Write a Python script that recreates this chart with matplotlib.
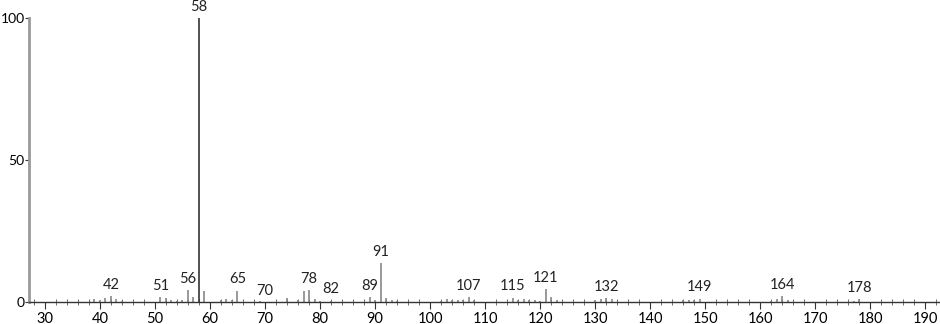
import matplotlib
matplotlib.use("Agg")
import matplotlib.pyplot as plt
import numpy as np

mz = [39, 40, 41, 42, 43, 44, 51, 52, 53, 54, 55, 56, 57, 58, 59, 62, 63, 64, 65,
      69, 74, 76, 77, 78, 79, 80, 82, 89, 90, 91, 92, 93, 94, 102, 103, 104, 105,
      106, 107, 108, 115, 116, 117, 118, 119, 120, 121, 122, 123, 130, 131, 132,
      133, 146, 147, 148, 149, 162, 163, 164, 165, 177, 178]
intensity = [1.0, 0.7, 1.5, 2.1, 1.0, 0.5, 1.6, 1.3, 0.7, 0.5, 0.8, 4.2, 1.6, 100,
             3.9, 0.8, 1.2, 0.7, 4.0, 0.4, 1.4, 0.7, 3.9, 4.2, 1.2, 0.4, 0.5, 1.6,
             0.8, 13.6, 1.3, 0.7, 0.5, 0.5, 1.2, 0.6, 0.8, 0.8, 1.7, 0.8, 1.5, 0.6,
             1.0, 0.7, 0.7, 0.5, 4.5, 1.8, 0.6, 0.7, 1.2, 1.3, 1.0, 0.8, 0.6, 0.8,
             1.2, 0.5, 1.0, 2.1, 0.7, 0.5, 1.0]
labeled = [42, 51, 56, 58, 65, 70, 78, 82, 89, 91, 107, 115, 121, 132, 149, 164, 178]

plt.rcParams['font.family'] = ['Lato', 'DejaVu Sans']

fig = plt.figure(figsize=(9.4, 3.24), dpi=100)
ax = fig.add_axes([29 / 940, 22 / 324, 911 / 940, 284 / 324])

colors = ['#333333' if m == 58 else '#888888' for m in mz]
ax.vlines(mz, 0, intensity, colors=colors, linewidth=1.2)

lookup = dict(zip(mz, intensity))
for m in labeled:
    h = lookup.get(m, 0)
    ax.text(m, h + 1.5, str(m), ha='center', va='bottom', fontsize=10.5,
            color='#222222', clip_on=False)

ax.set_xlim(27.1, 192.7)
ax.set_ylim(0, 100)
ax.set_xticks(np.arange(30, 191, 10))
ax.set_xticks(np.arange(28, 193, 2), minor=True)
ax.set_yticks([0, 50, 100])
ax.tick_params(axis='x', which='major', direction='out', length=5, labelsize=10.5,
               pad=2, color='#333333')
ax.tick_params(axis='x', which='minor', direction='inout', length=4, color='#555555')
ax.tick_params(axis='y', direction='out', length=3, labelsize=10, pad=0,
               color='#333333')

for side in ['top', 'right']:
    ax.spines[side].set_visible(False)
ax.spines['left'].set_color('#999999')
ax.spines['left'].set_linewidth(2)
ax.spines['bottom'].set_color('#333333')
ax.spines['bottom'].set_linewidth(1)

fig.savefig('out.png', dpi=100)
